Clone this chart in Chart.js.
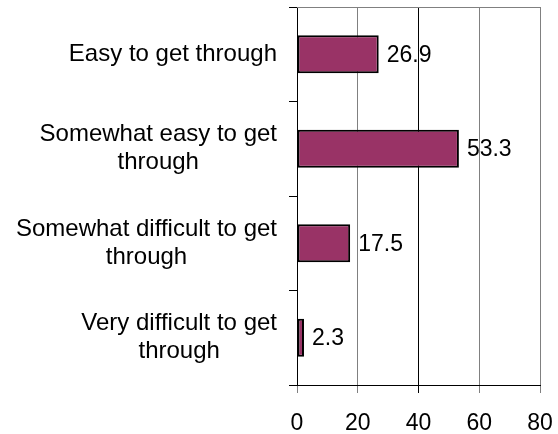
<!DOCTYPE html>
<html>
<head>
<meta charset="utf-8">
<script src="https://cdn.jsdelivr.net/npm/chart.js@4.4.1/dist/chart.umd.min.js"></script>
<style>
  html, body { margin: 0; padding: 0; background: #fff; }
  #wrap { width: 558px; height: 434px; }
</style>
</head>
<body>
<div id="wrap"><canvas id="grafico" width="558" height="434"></canvas></div>
<script>
const categorias = [
  ["Easy to get through"],
  ["Somewhat easy to get", "through"],
  ["Somewhat difficult to get", "through"],
  ["Very difficult to get", "through"]
];
const valores = [26.9, 53.3, 17.5, 2.3];
const ejeMin = 0;
const ejeMax = 80;
const ejePaso = 20;

const fuente = "Liberation Sans, Arial, sans-serif";

// etiquetas de categoria: lineas centradas entre si, bloque alineado a la derecha
const etiquetasY = {
  id: "etiquetasY",
  afterDraw(chart) {
    const ctx = chart.ctx;
    const y = chart.scales.y;
    ctx.save();
    ctx.font = "24px " + fuente;
    ctx.fillStyle = "#000";
    ctx.textAlign = "center";
    ctx.textBaseline = "middle";
    const derecha = y.right - 20;
    categorias.forEach((lineas, i) => {
      const ancho = Math.max(...lineas.map(l => ctx.measureText(l).width));
      const cx = derecha - ancho / 2;
      const cy = y.getPixelForValue(i);
      const alto = 28;
      lineas.forEach((l, j) => {
        ctx.fillText(l, cx, cy + (j - (lineas.length - 1) / 2) * alto);
      });
    });
    ctx.restore();
  }
};

// valores al final de cada barra
const etiquetasValor = {
  id: "etiquetasValor",
  afterDatasetsDraw(chart) {
    const ctx = chart.ctx;
    const meta = chart.getDatasetMeta(0);
    ctx.save();
    ctx.font = "23px " + fuente;
    ctx.fillStyle = "#000";
    ctx.textAlign = "left";
    ctx.textBaseline = "middle";
    meta.data.forEach((bar, i) => {
      ctx.fillText(valores[i].toFixed(1), bar.x + 8, bar.y + 1);
    });
    ctx.restore();
  }
};

// borde superior del area de trazado
const bordeSuperior = {
  id: "bordeSuperior",
  beforeDatasetsDraw(chart) {
    const { ctx, chartArea } = chart;
    ctx.save();
    ctx.strokeStyle = "#808080";
    ctx.lineWidth = 1;
    ctx.beginPath();
    ctx.moveTo(chartArea.left, chartArea.top + 0.5);
    ctx.lineTo(chartArea.right, chartArea.top + 0.5);
    ctx.stroke();
    ctx.restore();
  }
};

const colorRejilla = c => (c.tick && c.tick.value === 40) ? "#000" : "#808080";

const ctx = document.getElementById("grafico").getContext("2d");
const chart = new Chart(ctx, {
  type: "bar",
  data: {
    labels: categorias.map(c => c.join(" ")),
    datasets: [{
      data: valores,
      backgroundColor: "#993366",
      borderColor: "#000",
      borderWidth: 2,
      borderSkipped: false,
      barPercentage: 1,
      categoryPercentage: 0.4
    }]
  },
  options: {
    indexAxis: "y",
    responsive: false,
    animation: false,
    layout: { padding: { top: 7, right: 18, left: 0, bottom: 0 } },
    plugins: {
      legend: { display: false },
      tooltip: { enabled: false },
      title: { display: false }
    },
    scales: {
      x: {
        min: ejeMin,
        max: ejeMax,
        ticks: {
          stepSize: ejePaso,
          color: "#000",
          font: { family: fuente, size: 23 },
          padding: 17,
          maxRotation: 0
        },
        grid: {
          color: colorRejilla,
          tickColor: colorRejilla,
          tickLength: 8,
          drawTicks: true
        },
        border: { color: "#000", width: 1 },
        afterFit(scale) {
          scale.height = 49;
          scale.paddingLeft = 0;
          scale.paddingRight = 0;
        }
      },
      y: {
        offset: true,
        ticks: { display: false },
        grid: {
          offset: true,
          drawOnChartArea: false,
          drawTicks: true,
          tickLength: 8,
          color: "#000"
        },
        border: { color: "#000", width: 1 },
        afterFit(scale) { scale.width = 297; }
      }
    }
  },
  plugins: [bordeSuperior, etiquetasValor, etiquetasY]
});
</script>
</body>
</html>
